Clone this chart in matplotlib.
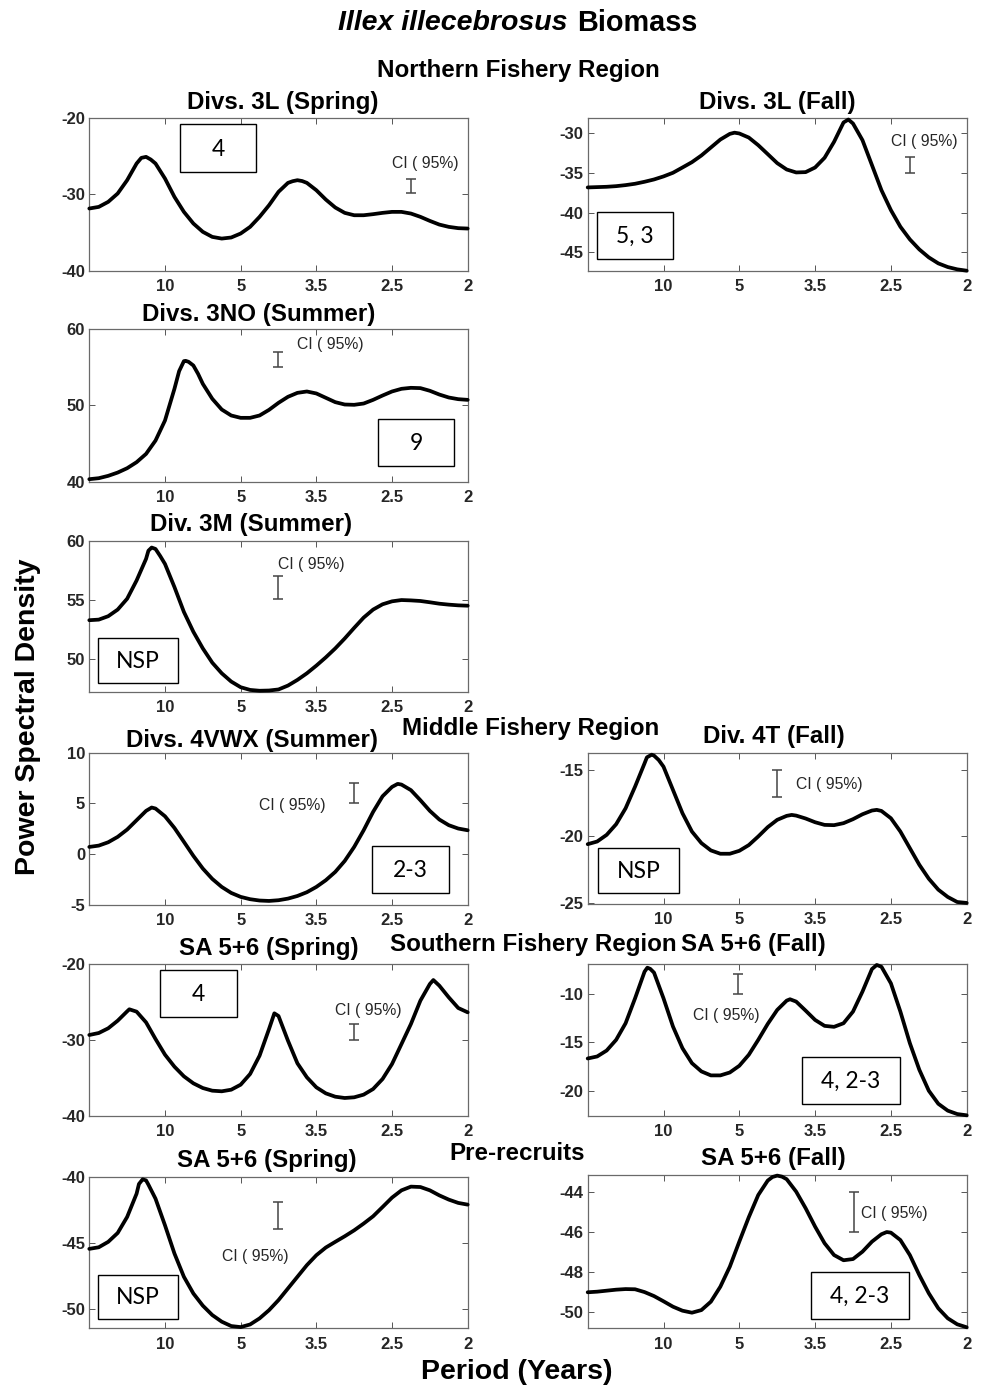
import matplotlib
matplotlib.use('Agg')
import matplotlib.pyplot as plt
from matplotlib.patches import Rectangle

W, H = 981, 1387
plt.rcParams['font.family'] = ['Liberation Sans', 'DejaVu Sans']

# ---------------- data ----------------
FREQ = [0.0, 0.0125, 0.025, 0.0375, 0.05, 0.0625, 0.075, 0.0875, 0.1, 0.1125,
        0.125, 0.1375, 0.15, 0.1625, 0.175, 0.1875, 0.2, 0.2125, 0.225, 0.2375,
        0.25, 0.2625, 0.275, 0.2875, 0.3, 0.3125, 0.325, 0.3375, 0.35, 0.3625,
        0.375, 0.3875, 0.4, 0.4125, 0.425, 0.4375, 0.45, 0.4625, 0.475, 0.4875, 0.5]
XTICKS = [0.1, 0.2, 0.3, 0.4, 0.5]
XTICK_LABELS = ['10', '5', '3.5', '2.5', '2']

TITLES = ['Divs. 3L (Spring)', 'Divs. 3L (Fall)', 'Divs. 3NO (Summer)', 'Div. 3M (Summer)',
          'Divs. 4VWX (Summer)', 'Div. 4T (Fall)', 'SA 5+6 (Spring)', 'SA 5+6 (Fall)',
          'SA 5+6 (Spring)', 'SA 5+6 (Fall)']
BOX_LABELS = ['4', '5, 3', '9', 'NSP', '2-3', 'NSP', '4', '4, 2-3', 'NSP', '4, 2-3']

psd_3L_spring = [-31.87, -31.66, -31.00, -29.91, -28.17, -25.99, -25.12, -25.99, -27.95, -30.35,
                 -32.31, -33.83, -34.92, -35.58, -35.80, -35.66, -35.14, -34.27, -32.96, -31.44,
                 -29.69, -28.52, -28.17, -28.52, -29.48, -30.70, -31.74, -32.44, -32.75, -32.75,
                 -32.61, -32.44, -32.31, -32.31, -32.53, -32.96, -33.49, -33.97, -34.27, -34.44, -34.49]
ext_f_3L_spring = [0.06875, 0.08125, 0.26875, 0.28125]
ext_p_3L_spring = [-25.25, -25.47, -28.30, -28.28]

psd_3L_fall = [-36.85, -36.81, -36.77, -36.69, -36.56, -36.39, -36.14, -35.85, -35.47, -35.01,
               -34.35, -33.68, -32.84, -31.84, -30.84, -30.13, -30.08, -30.59, -31.55, -32.67,
               -33.80, -34.60, -34.97, -34.93, -34.35, -33.13, -31.13, -28.70, -28.83, -30.92,
               -34.05, -37.19, -39.70, -41.78, -43.37, -44.63, -45.63, -46.38, -46.84, -47.13, -47.30]
ext_f_3L_fall = [0.1937, 0.3439]
ext_p_3L_fall = [-29.98, -28.33]

psd_3NO_summer = [40.33, 40.46, 40.77, 41.20, 41.77, 42.56, 43.65, 45.40, 48.03, 52.19,
                  55.82, 55.25, 52.84, 50.88, 49.47, 48.69, 48.38, 48.38, 48.69, 49.43,
                  50.35, 51.14, 51.66, 51.84, 51.58, 51.01, 50.44, 50.13, 50.09, 50.26,
                  50.74, 51.31, 51.84, 52.19, 52.32, 52.28, 51.93, 51.44, 51.05, 50.83, 50.74]
ext_f_3NO_summer = [0.1187, 0.1273, 0.1312, 0.1437]
ext_p_3NO_summer = [54.51, 55.86, 55.73, 54.16]

psd_3M_summer = [53.26, 53.31, 53.60, 54.16, 55.08, 56.63, 58.46, 59.30, 58.03, 56.07,
                 53.96, 52.28, 50.87, 49.66, 48.76, 48.06, 47.58, 47.35, 47.28, 47.30,
                 47.39, 47.72, 48.20, 48.76, 49.41, 50.11, 50.87, 51.71, 52.61, 53.48,
                 54.16, 54.61, 54.86, 54.97, 54.94, 54.89, 54.78, 54.66, 54.58, 54.52, 54.49]
ext_f_3M_summer = [0.0781, 0.0824, 0.0937]
ext_p_3M_summer = [59.15, 59.42, 58.70]

psd_4VWX_summer = [0.72, 0.85, 1.18, 1.71, 2.43, 3.35, 4.27, 4.50, 3.74, 2.59,
                   1.22, -0.16, -1.41, -2.43, -3.22, -3.81, -4.20, -4.43, -4.56, -4.60,
                   -4.53, -4.37, -4.11, -3.74, -3.22, -2.56, -1.74, -0.66, 0.72, 2.36,
                   4.17, 5.71, 6.63, 6.86, 6.31, 5.32, 4.27, 3.42, 2.86, 2.53, 2.36]
ext_f_4VWX_summer = [0.0824, 0.4075]
ext_p_4VWX_summer = [4.60, 6.93]

psd_4T_fall = [-20.58, -20.38, -19.88, -19.08, -17.88, -16.25, -14.50, -13.92, -14.75, -16.50,
               -18.25, -19.63, -20.50, -21.05, -21.30, -21.30, -21.08, -20.65, -20.00, -19.30,
               -18.75, -18.45, -18.43, -18.65, -18.93, -19.13, -19.15, -19.00, -18.70, -18.33,
               -18.05, -18.08, -18.63, -19.63, -20.88, -22.13, -23.18, -24.00, -24.55, -24.93, -25.00]
ext_f_4T_fall = [0.0781, 0.0844, 0.0937, 0.2691, 0.3813]
ext_p_4T_fall = [-14.05, -13.85, -14.25, -18.38, -18.00]

psd_SA_spring = [-29.34, -29.08, -28.46, -27.46, -26.23, -26.27, -27.68, -29.87, -31.93, -33.51,
                 -34.78, -35.70, -36.32, -36.67, -36.75, -36.54, -35.88, -34.47, -32.06, -28.55,
                 -26.84, -30.09, -33.07, -34.91, -36.23, -37.02, -37.46, -37.63, -37.54, -37.19,
                 -36.45, -35.13, -33.16, -30.53, -27.89, -24.82, -22.63, -22.85, -24.39, -25.79, -26.36]
ext_f_SA_spring = [0.0529, 0.2445, 0.4546]
ext_p_SA_spring = [-25.96, -26.49, -22.11]

psd_SA_fall = [-16.68, -16.47, -15.86, -14.76, -13.05, -10.48, -7.74, -7.84, -10.48, -13.39,
               -15.62, -17.16, -18.01, -18.42, -18.42, -18.12, -17.43, -16.30, -14.76, -13.12,
               -11.68, -10.72, -10.82, -11.75, -12.71, -13.32, -13.42, -13.05, -11.85, -9.79,
               -7.47, -7.23, -8.94, -11.85, -15.10, -17.84, -20.00, -21.34, -22.05, -22.40, -22.53]
ext_f_SA_fall = [0.0787, 0.0825, 0.2669, 0.3813]
ext_p_SA_fall = [-7.33, -7.45, -10.58, -7.05]

psd_pre_spring = [-45.45, -45.33, -44.92, -44.25, -43.04, -41.28, -40.28, -41.66, -43.67, -45.80,
                  -47.56, -48.82, -49.74, -50.45, -50.95, -51.28, -51.36, -51.16, -50.70, -50.08,
                  -49.32, -48.44, -47.56, -46.68, -45.93, -45.35, -44.92, -44.50, -44.05, -43.54,
                  -42.99, -42.29, -41.58, -41.03, -40.75, -40.78, -41.03, -41.41, -41.73, -41.98, -42.11]
ext_f_pre_spring = [0.0656, 0.0705, 0.0781]
ext_p_pre_spring = [-40.55, -40.20, -40.60]

psd_pre_fall = [-49.03, -49.00, -48.95, -48.90, -48.87, -48.88, -49.02, -49.22, -49.48, -49.75,
                -49.95, -50.05, -49.92, -49.50, -48.75, -47.75, -46.50, -45.28, -44.17, -43.45,
                -43.20, -43.38, -44.00, -44.83, -45.75, -46.58, -47.17, -47.43, -47.37, -47.00,
                -46.50, -46.13, -46.05, -46.42, -47.17, -48.17, -49.08, -49.83, -50.33, -50.63, -50.78]
ext_f_pre_fall = [0.2437, 0.2562, 0.3945]
ext_p_pre_fall = [-43.27, -43.25, -46.02]

PSD = [psd_3L_spring, psd_3L_fall, psd_3NO_summer, psd_3M_summer, psd_4VWX_summer,
       psd_4T_fall, psd_SA_spring, psd_SA_fall, psd_pre_spring, psd_pre_fall]
EXT_F = [ext_f_3L_spring, ext_f_3L_fall, ext_f_3NO_summer, ext_f_3M_summer, ext_f_4VWX_summer,
         ext_f_4T_fall, ext_f_SA_spring, ext_f_SA_fall, ext_f_pre_spring, ext_f_pre_fall]
EXT_P = [ext_p_3L_spring, ext_p_3L_fall, ext_p_3NO_summer, ext_p_3M_summer, ext_p_4VWX_summer,
         ext_p_4T_fall, ext_p_SA_spring, ext_p_SA_fall, ext_p_pre_spring, ext_p_pre_fall]

YLIMS = [(-40, -20), (-47.3, -28.1), (40, 60), (47.2, 60), (-5, 10),
         (-25.08, -13.7), (-40, -20), (-22.57, -6.95), (-51.45, -40), (-50.83, -43.17)]
YTICKS = [[-40, -30, -20], [-45, -40, -35, -30], [40, 50, 60], [50, 55, 60], [-5, 0, 5, 10],
          [-25, -20, -15], [-40, -30, -20], [-20, -15, -10], [-50, -45, -40], [-50, -48, -46, -44]]

# 95% confidence-interval bars: x (frequency), low, high; label anchor (frequency, value)
CI_X = [0.4247, 0.4252, 0.2497, 0.2497, 0.3498, 0.2493, 0.3498, 0.1987, 0.2497, 0.3513]
CI_LO = [-29.9, -35.1, 55.0, 55.06, 5.0, -17.0, -30.0, -10.07, -43.93, -46.0]
CI_HI = [-28.0, -33.0, 57.06, 57.02, 6.98, -15.0, -27.93, -8.02, -41.92, -44.0]
CI_LABEL_X = [0.3996, 0.400, 0.2748, 0.2497, 0.2246, 0.2748, 0.3247, 0.1393, 0.175, 0.3606]
CI_LABEL_Y = [-26.05, -31.13, 58.03, 57.95, 4.84, -16.07, -26.18, -12.23, -46.06, -45.08]

# ---------------- layout (pixels) ----------------
LX0, LX1 = 89.3, 467.7
RX0, RX1 = 587.7, 966.7
AX_RECTS = [(LX0, LX1, 117.7, 270.7), (RX0, RX1, 117.7, 270.7),
            (LX0, LX1, 329.3, 481.7), (LX0, LX1, 540.7, 691.7),
            (LX0, LX1, 752.7, 905.0), (RX0, RX1, 752.7, 904.0),
            (LX0, LX1, 964.0, 1116.0), (RX0, RX1, 964.0, 1115.7),
            (LX0, LX1, 1176.7, 1328.3), (RX0, RX1, 1175.0, 1328.3)]
TITLE_POS = [(283, 103), (777, 103), (259, 315), (251, 525), (252, 740),
             (774, 737), (269, 948), (753, 945), (267, 1160), (773, 1158)]
BOX_RECTS = [(180, 256, 124, 172), (596.7, 673, 211.7, 259), (378, 454, 419, 466),
             (98, 178, 637.7, 682.7), (372, 449, 846, 893), (598, 678.7, 848, 893),
             (160, 237, 970, 1017), (801.7, 900, 1056.7, 1104), (98, 178, 1275, 1319),
             (810.7, 909.3, 1272, 1319)]

fig = plt.figure(figsize=(W / 100, H / 100), dpi=100)


def fx(x):
    return x / W


def fy(y):
    return 1 - y / H


TXT = '#262626'
for i in range(10):
    x0, x1, top, bot = AX_RECTS[i]
    ax = fig.add_axes([fx(x0), fy(bot), fx(x1) - fx(x0), (bot - top) / H])
    pts = sorted(list(zip(FREQ, PSD[i])) + list(zip(EXT_F[i], EXT_P[i])))
    ax.plot([p[0] for p in pts], [p[1] for p in pts], color='black', lw=2.7,
            solid_capstyle='round', solid_joinstyle='round', clip_on=False, zorder=3)
    ax.set_xlim(0, 0.5)
    ax.set_ylim(*YLIMS[i])
    ax.set_xticks(XTICKS)
    ax.set_xticklabels(XTICK_LABELS)
    ax.set_yticks(YTICKS[i])
    ax.set_yticklabels([str(v) for v in YTICKS[i]])
    ax.tick_params(direction='in', length=4, width=0.7, color='#555555',
                   top=True, right=True, labelsize=12, labelcolor=TXT)
    ax.tick_params(axis='x', pad=6)
    ax.tick_params(axis='y', pad=3)
    for lab in ax.get_xticklabels() + ax.get_yticklabels():
        lab.set_fontweight('bold')
    for sp in ax.spines.values():
        sp.set_color('#6a6a6a')
        sp.set_linewidth(0.9)
    # CI bar
    mid = (CI_LO[i] + CI_HI[i]) / 2
    half = (CI_HI[i] - CI_LO[i]) / 2
    ax.errorbar([CI_X[i]], [mid], yerr=[half], fmt='none', ecolor='#444444',
                elinewidth=1.1, capsize=3.5, capthick=1.1, zorder=4)
    ax.text(CI_LABEL_X[i], CI_LABEL_Y[i], 'CI ( 95%)', ha='left', va='center',
            fontsize=11.3, color=TXT)
    # panel title
    tx, ty = TITLE_POS[i]
    fig.text(fx(tx), fy(ty), TITLES[i], ha='center', va='center',
             fontsize=17.4, fontweight='bold', color='black')
    # annotation box
    bx0, bx1, by0, by1 = BOX_RECTS[i]
    fig.add_artist(Rectangle((fx(bx0), fy(by1)), fx(bx1) - fx(bx0), (by1 - by0) / H,
                             transform=fig.transFigure, facecolor='white',
                             edgecolor='black', lw=1.0, zorder=5))
    fig.text(fx((bx0 + bx1) / 2), fy((by0 + by1) / 2 + 1), BOX_LABELS[i],
             ha='center', va='center', fontsize=16.5, family=['Lato', 'DejaVu Sans'],
             color='black', zorder=6)

# section headings
SECTIONS = [('Northern Fishery Region', 518, 71), ('Middle Fishery Region', 531, 729),
            ('Southern Fishery Region', 533, 945), ('Pre-recruits', 517, 1153)]
for s, x, y in SECTIONS:
    fig.text(fx(x), fy(y), s, ha='center', va='center', fontsize=17.4,
             fontweight='bold', color='black')

# main title
fig.text(fx(568), fy(23), 'Illex illecebrosus', ha='right', va='center', fontsize=20.5,
         fontweight='bold', fontstyle='italic', color='black')
fig.text(fx(577), fy(23), 'Biomass', ha='left', va='center', fontsize=20.8,
         fontweight='bold', color='black')

# axis labels
fig.text(fx(28), fy(717), 'Power Spectral Density', rotation=90, ha='center', va='center',
         fontsize=20.5, fontweight='bold', color='black')
fig.text(fx(517), fy(1372), 'Period (Years)', ha='center', va='center',
         fontsize=20.5, fontweight='bold', color='black')

fig.savefig('out.png', dpi=100)
